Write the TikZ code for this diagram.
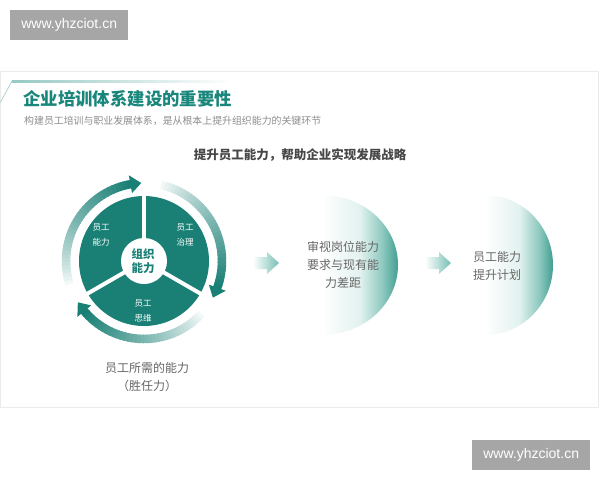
\documentclass[tikz,border=0pt]{standalone}
\usepackage{fontspec}
\setmainfont{Noto Sans CJK SC}
\newfontfamily\wmfont{Liberation Sans}
\usetikzlibrary{positioning,calc}

\definecolor{tealdark}{RGB}{26,128,118}
\definecolor{titleteal}{RGB}{24,134,122}
\definecolor{moondark}{RGB}{66,158,146}
\definecolor{moonmid}{RGB}{140,200,190}
\definecolor{moonpale}{RGB}{226,242,239}
\definecolor{chevteal}{RGB}{118,190,180}
\definecolor{textgray}{RGB}{102,102,102}
\definecolor{wmgray}{RGB}{166,166,166}

% horizontal fade used by the two half moons (path spans 25bp..75bp)
\pgfdeclarehorizontalshading{moonfade}{100bp}{color(0bp)=(white); color(25bp)=(white);
  color(50bp)=(moonpale); color(65bp)=(moonmid); color(75bp)=(moondark); color(100bp)=(moondark)}

% ring arrow: fading arc from #1 to #2 (degrees, clockwise), then a head
\newcommand\ringarrow[2]{%
  \foreach \i in {0,...,35}{
    \pgfmathsetmacro\aa{#1+(#2-#1)*\i/36}
    \pgfmathsetmacro\ab{#1+(#2-#1)*(\i+1.3)/36}
    \pgfmathsetmacro\pc{100*(\i/35)^0.8}
    \draw[line width=8.5pt, draw=tealdark!\pc!white] (\aa:78) arc[start angle=\aa, end angle=\ab, radius=78];
  }
  \pgfmathsetmacro\tip{#2-8}
  \fill[tealdark] (#2:69) -- (#2:87) -- (\tip:78) -- cycle;
}

\begin{document}
\begin{tikzpicture}[x=1pt, y=-1pt,
    wmbox/.style={fill=wmgray, text=white, font=\wmfont\fontsize{14}{16}\selectfont,
      minimum width=118, minimum height=30, inner sep=0, anchor=north west},
    seclabel/.style={text=white, align=center, font=\fontsize{8.5}{15}\selectfont},
    moontext/.style={text=textgray, align=center, font=\fontsize{12}{18}\selectfont}]
  \useasboundingbox (0,0) rectangle (600,480);

  % watermarks
  \node[wmbox] (wmtop) at (10,10) {www.yhzciot.cn};
  \node[wmbox] (wmbottom) at (472,440) {www.yhzciot.cn};

  % panel and heading decoration
  \draw[black!8] (0.5,71) rectangle (598.5,407);
  \draw[titleteal!35, line width=0.8] (0,103) -- (12,81);
  \shade[left color=titleteal!45, right color=white] (12,80) rectangle (232,82.5);

  \node[anchor=west, inner sep=0, text=titleteal, font=\fontsize{17.4}{20}\selectfont\bfseries]
    (title) at (23,99) {企业培训体系建设的重要性};
  \node[anchor=west, inner sep=0, text=black!45, font=\fontsize{9.9}{12}\selectfont]
    (subtitle) at (24,121) {构建员工培训与职业发展体系，是从根本上提升组织能力的关键环节};
  \node[inner sep=0, text=black!72, font=\fontsize{12.5}{15}\selectfont\bfseries]
    (heading) at (300,155) {提升员工能力，帮助企业实现发展战略};

  % pie with the three ring arrows
  \begin{scope}[shift={(144,261)}, yscale=-1]
    \fill[tealdark] (0,0) circle[radius=65];
    \foreach \a in {90,210,330}
      \draw[white, line width=4pt] (0,0) -- (\a:67);
    \fill[white] (0,0) circle[radius=23];
    \ringarrow{200}{100}
    \ringarrow{80}{-20}
    \ringarrow{-40}{-140}
  \end{scope}

  \node[text=tealdark, align=center, font=\fontsize{11.5}{13.5}\selectfont\bfseries]
    (core) at (143,261) {组织\\能力};
  \node[seclabel] (ability) at (101,235) {员工\\能力};
  \node[seclabel] (govern) at (185,235) {员工\\治理};
  \node[seclabel] (mindset) at (143,311) {员工\\思维};
  \node[moontext] (need) at (147,377) {员工所需的能力\\（胜任力）};

  % chevrons
  \foreach \dx/\nm in {0/chevA,172/chevB}
    \shade[left color=white, right color=chevteal, shift={(\dx,0)}]
      (253,257) -- (267,257) -- (267,252) -- (279,263) -- (267,274) -- (267,269) -- (253,269) -- cycle;

  % half moons
  \shade[shading=moonfade] (322,195) arc[start angle=-90, end angle=90, x radius=76, y radius=70] -- cycle;
  \shade[shading=moonfade] (485,195) arc[start angle=-90, end angle=90, x radius=68, y radius=70] -- cycle;
  \node[moontext] (gap) at (343,265) {审视岗位能力\\要求与现有能\\力差距};
  \node[moontext] (plan) at (497,266) {员工能力\\提升计划};
\end{tikzpicture}
\end{document}
